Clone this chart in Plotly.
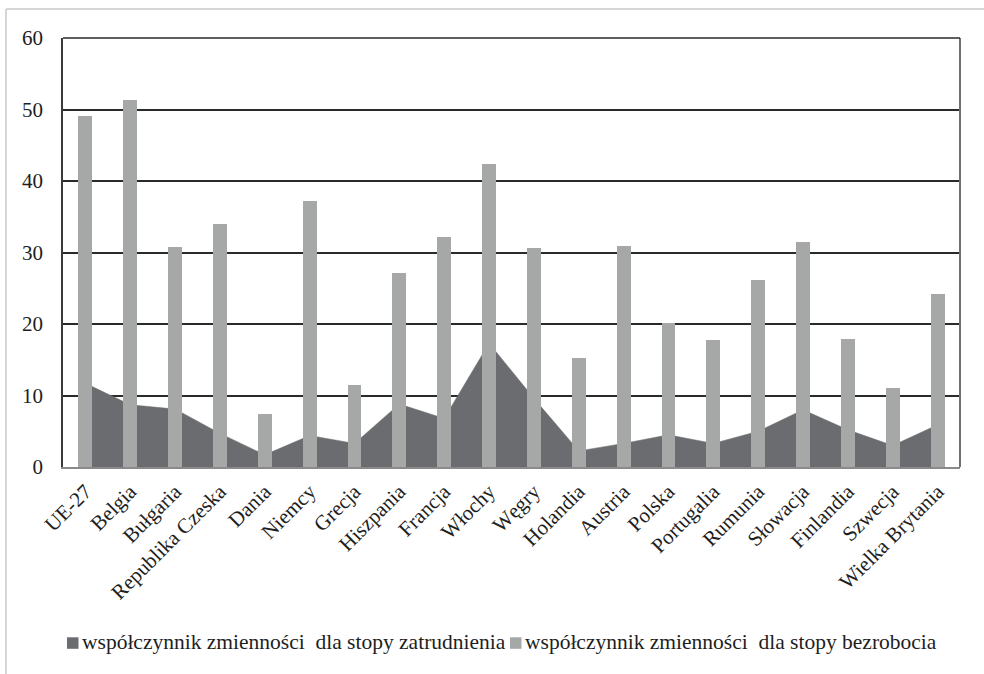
import plotly.graph_objects as go

categories = ["UE-27", "Belgia", "Bułgaria", "Republika Czeska", "Dania", "Niemcy",
              "Grecja", "Hiszpania", "Francja", "Włochy", "Węgry", "Holandia",
              "Austria", "Polska", "Portugalia", "Rumunia", "Słowacja", "Finlandia",
              "Szwecja", "Wielka Brytania"]
zatrudnienie = [11.7, 8.7, 8.1, 4.7, 1.7, 4.4, 3.3, 8.8, 6.8, 17.3, 9.6, 2.25,
                3.3, 4.5, 3.3, 5.0, 8.0, 5.2, 3.0, 5.9]
bezrobocie = [49.1, 51.3, 30.8, 34.0, 7.35, 37.2, 11.5, 27.1, 32.2, 42.4, 30.7, 15.3,
              30.9, 20.1, 17.8, 26.1, 31.5, 17.9, 11.1, 24.2]
y_ticks = [0, 10, 20, 30, 40, 50, 60]
legend_names = ["współczynnik zmienności\u00a0 dla stopy zatrudnienia",
                "współczynnik zmienności\u00a0 dla stopy bezrobocia"]

DARK = "#6b6c70"
LIGHT = "#a6a8a8"
FONT = "Liberation Serif, Times New Roman, serif"
TXT = "#1e1e1e"

fig = go.Figure()
fig.add_trace(go.Scatter(x=categories, y=zatrudnienie, mode="lines", fill="tozeroy",
                         line=dict(color=DARK, width=0.5), fillcolor=DARK,
                         name=legend_names[0], xaxis="x", yaxis="y", hoverinfo="x+y"))
fig.add_trace(go.Bar(x=categories, y=bezrobocie, marker=dict(color=LIGHT, line=dict(width=0)),
                     width=0.31, name=legend_names[1], xaxis="x2", yaxis="y2"))

W, H = 984, 674
L, R, T, B = 63, 24, 37.7, 207.3
pw, ph = W - L - R, H - T - B

def px_x(p):
    return (p - L) / pw

def px_y(p):
    return (H - B - p) / ph

fig.update_layout(
    width=W, height=H,
    margin=dict(l=L, r=R, t=T, b=B, autoexpand=False),
    paper_bgcolor="white", plot_bgcolor="white",
    showlegend=False,
    font=dict(family=FONT, color=TXT),
    bargap=0,
    xaxis=dict(type="category", categoryorder="array", categoryarray=categories,
               range=[-0.5, len(categories) - 0.5], tickangle=-45,
               tickfont=dict(family=FONT, size=21, color=TXT),
               showgrid=False, showline=True, linecolor="#8a8a8a", linewidth=2,
               ticks="", ticklabelstandoff=2),
    xaxis2=dict(type="category", categoryorder="array", categoryarray=categories,
                range=[-0.5, len(categories) - 0.5], overlaying="x", matches="x",
                visible=False),
    yaxis=dict(range=[0, 60], tickvals=y_ticks, showgrid=True, gridcolor="#2a2a2a",
               gridwidth=1.5, zeroline=False, showline=True, linecolor="#3a3a3a",
               linewidth=1.5, ticks="", ticklabelstandoff=14,
               tickfont=dict(family=FONT, size=21, color=TXT)),
    yaxis2=dict(range=[0, 60], overlaying="y", visible=False),
)

shapes = [
    dict(type="line", xref="paper", yref="paper", x0=1, x1=1, y0=0, y1=1,
         line=dict(color="#707070", width=2), layer="above"),
    dict(type="line", xref="paper", yref="paper", x0=0, x1=1, y0=1, y1=1,
         line=dict(color="#2a2a2a", width=1.5), layer="above"),
    dict(type="line", xref="paper", yref="paper", x0=px_x(6), x1=px_x(984), y0=px_y(8.7), y1=px_y(8.7),
         line=dict(color="#c8c8c8", width=1.5)),
    dict(type="line", xref="paper", yref="paper", x0=px_x(6), x1=px_x(6), y0=px_y(8.7), y1=px_y(674),
         line=dict(color="#c8c8c8", width=1.5)),
    dict(type="rect", xref="paper", yref="paper", x0=px_x(67), x1=px_x(78.5), y0=px_y(648.5), y1=px_y(637),
         fillcolor=DARK, line=dict(width=0)),
    dict(type="rect", xref="paper", yref="paper", x0=px_x(510), x1=px_x(521.5), y0=px_y(648.5), y1=px_y(637),
         fillcolor=LIGHT, line=dict(width=0)),
]
fig.update_layout(shapes=shapes)

fig.add_annotation(xref="paper", yref="paper", x=px_x(80), y=px_y(642), xanchor="left", yanchor="middle",
                   text=legend_names[0], showarrow=False, font=dict(family=FONT, size=21.5, color=TXT))
fig.add_annotation(xref="paper", yref="paper", x=px_x(523), y=px_y(642), xanchor="left", yanchor="middle",
                   text=legend_names[1], showarrow=False, font=dict(family=FONT, size=21.5, color=TXT))

fig.write_html("out.html", config={"displayModeBar": False},
               post_script="document.body.style.margin='0';")
